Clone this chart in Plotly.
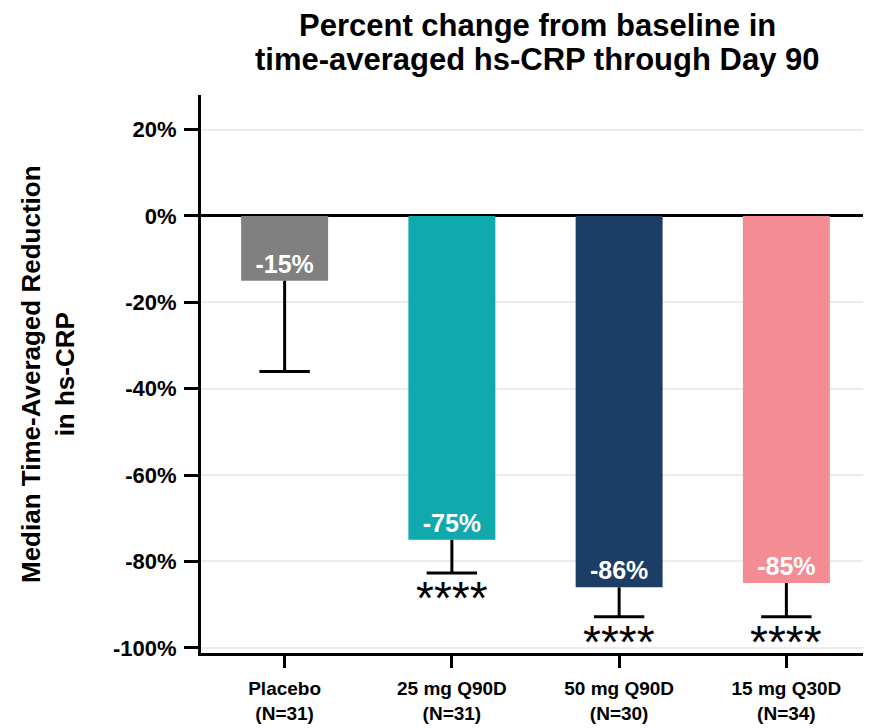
import plotly.graph_objects as go

categories = ["Placebo<br>(N=31)", "25 mg Q90D<br>(N=31)", "50 mg Q90D<br>(N=30)", "15 mg Q30D<br>(N=34)"]
medians = [-15, -75, -86, -85]
lower_ci = [-36, -82.7, -92.8, -92.8]
significance = ["", "****", "****", "****"]
bar_colors = ["#808080", "#10A9AD", "#1C3D66", "#F48C94"]
y_ticks = [20, 0, -20, -40, -60, -80, -100]
y_tick_labels = ["20%", "0%", "-20%", "-40%", "-60%", "-80%", "-100%"]
title_lines = ["Percent change from baseline in", "time-averaged hs-CRP through Day 90"]

FONT = "Liberation Sans, Arial, sans-serif"
L, R, T, B = 193, 9, 87, 83
PH = 728 - T - B
PW = 871 - L - R

fig = go.Figure()
fig.add_trace(go.Bar(
    x=categories, y=medians, marker=dict(color=bar_colors, line=dict(width=0)),
    width=0.52,
    text=[f"{v}%" for v in medians], textposition="inside", insidetextanchor="end",
    textfont=dict(family=FONT, size=25, color="white", weight="bold"),
    textangle=0, cliponaxis=False, showlegend=False,
))

stem_x, stem_y = [], []
for c, v, lo in zip(categories, medians, lower_ci):
    stem_x += [c, c, None]
    stem_y += [v, lo, None]
fig.add_trace(go.Scatter(x=stem_x, y=stem_y, mode="lines",
                         line=dict(color="black", width=3), showlegend=False, hoverinfo="skip"))
fig.add_trace(go.Scatter(x=categories, y=lower_ci, mode="markers",
                         marker=dict(symbol="line-ew", size=36, line=dict(color="black", width=3)),
                         showlegend=False, hoverinfo="skip"))

for c, lo, s in zip(categories, lower_ci, significance):
    if s:
        fig.add_annotation(x=c, y=lo, text=s, showarrow=False, xanchor="center", yanchor="top",
                           yshift=3, font=dict(family=FONT, size=46, color="black"))

for i, line in enumerate(title_lines):
    fig.add_annotation(text=f"<b>{line}</b>", xref="paper", yref="paper",
                       x=(537 - 8 - L) / PW, y=1 + (T - (17 + 35 * i)) / PH,
                       xanchor="center", yanchor="middle", showarrow=False,
                       font=dict(family=FONT, size=31, color="black"))
fig.add_annotation(text="<b>Median Time-Averaged Reduction<br>in hs-CRP</b>",
                   xref="paper", yref="paper", x=-(L - 40) / PW, y=0.5, xanchor="center", yanchor="middle",
                   textangle=-90, showarrow=False,
                   font=dict(family=FONT, size=26, color="black"))

fig.update_layout(
    width=871, height=728,
    margin=dict(l=L, r=R, t=T, b=B, autoexpand=False),
    plot_bgcolor="white", paper_bgcolor="white",
    font=dict(family=FONT, color="black"),
)
fig.update_yaxes(
    range=[-101.2, 28], tickvals=y_ticks, ticktext=y_tick_labels,
    tickfont=dict(family=FONT, size=22, color="black", weight="bold"),
    showgrid=True, gridcolor="#ececec", gridwidth=1.5,
    zeroline=True, zerolinecolor="black", zerolinewidth=3,
    showline=True, linecolor="black", linewidth=3,
    ticks="outside", ticklen=14, tickwidth=3, tickcolor="black",
    ticklabelstandoff=3, automargin=False,
)
fig.update_xaxes(
    range=[-0.5, 3.5],
    tickfont=dict(family=FONT, size=19, color="black", weight="bold"),
    showline=True, linecolor="black", linewidth=3,
    ticks="outside", ticklen=12, tickwidth=3, tickcolor="black",
    ticklabelstandoff=4, showgrid=False, automargin=False,
)

fig.write_html("out.html")
